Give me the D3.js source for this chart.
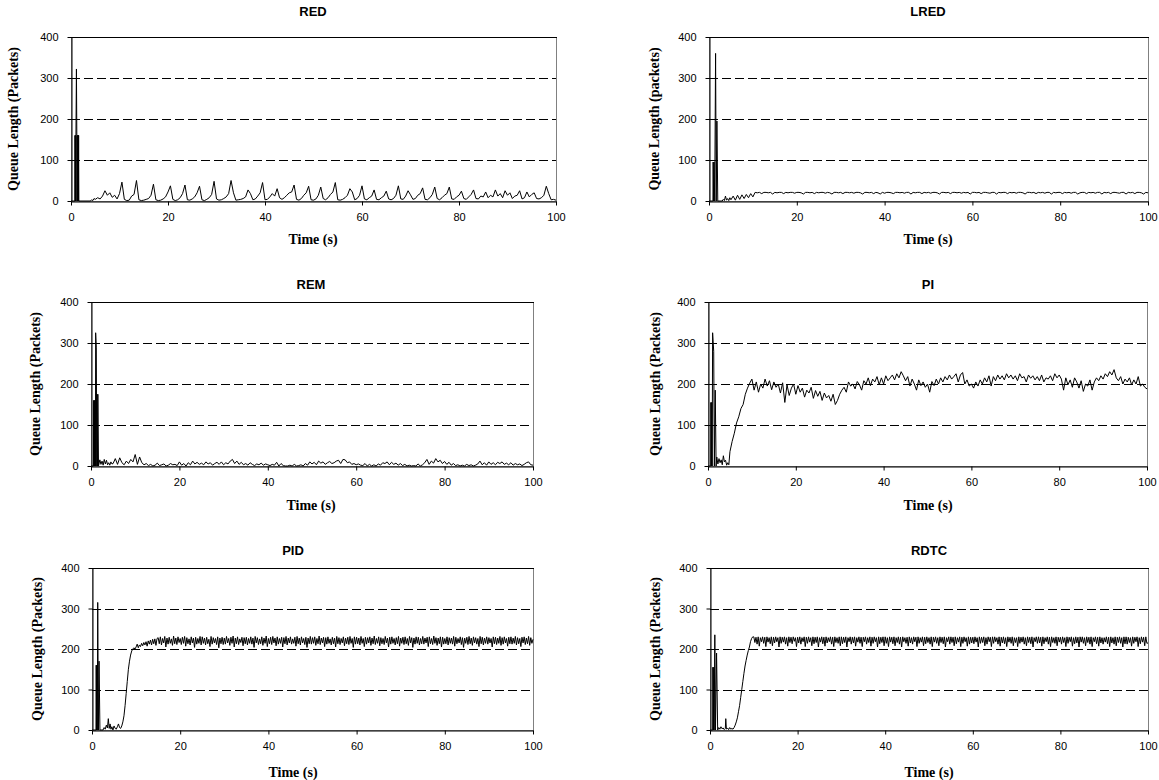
<!DOCTYPE html>
<html>
<head>
<meta charset="utf-8">
<script src="https://cdn.jsdelivr.net/npm/d3@7"></script>
<style>
  body { margin: 0; background: #fff; }
  .tick text { font-family: "Liberation Sans", Arial, sans-serif; font-size: 11px; fill: #000; }
  .ptitle { font-family: "Liberation Sans", Arial, sans-serif; font-size: 13px; font-weight: bold; }
  .atitle { font-family: "Liberation Serif", "Times New Roman", serif; font-size: 14px; font-weight: bold; }
</style>
</head>
<body>
<div id="chart"></div>
<script>
// queue length traces
// head = [time, packets] pairs for the start-up transient (0 - 4.75 s)
// body = one value every dt seconds from 5 s to 100 s
var BODY_T0 = 5, COARSE_DT = 0.5, FINE_DT = 0.25;
var xTicks = [0, 20, 40, 60, 80, 100];
var yTicks = [0, 100, 200, 300, 400];
var gridValues = [100, 200, 300];

var redHead = [[0,0],[0.8,0],[0.82,160],[0.88,0],[0.92,160],[0.98,0],[1.02,160],[1.12,322],[1.2,160],[1.24,0],[1.28,160],[1.33,0],[1.37,160],[1.42,0],[1.47,160],[1.52,0],[1.57,160],[1.62,0],[4,0],[4.25,3],[4.5,1],[4.75,6]];
var redBody = [
  4, 8, 5, 12, 25, 14, 20, 9, 14, 5,
  18, 46, 4, 1, 2, 12, 16, 50, 3, 1,
  2, 4, 6, 14, 41, 3, 1, 2, 5, 10,
  22, 37, 4, 1, 3, 8, 18, 39, 3, 2,
  5, 10, 20, 36, 3, 1, 4, 8, 16, 48,
  5, 2, 3, 6, 10, 18, 50, 20, 2, 3,
  4, 6, 10, 27, 18, 3, 5, 12, 20, 45,
  3, 4, 10, 18, 12, 30, 8, 4, 8, 14,
  20, 22, 39, 4, 2, 6, 14, 20, 36, 3,
  2, 5, 14, 34, 6, 3, 8, 16, 22, 45,
  3, 2, 4, 8, 14, 30, 22, 3, 6, 14,
  37, 5, 3, 8, 12, 27, 4, 3, 8, 12,
  24, 5, 3, 6, 14, 37, 5, 4, 12, 25,
  15, 4, 6, 14, 18, 32, 4, 3, 8, 16,
  34, 6, 3, 8, 14, 18, 34, 5, 4, 10,
  14, 24, 6, 4, 10, 16, 27, 6, 5, 12,
  10, 22, 8, 14, 10, 27, 12, 18, 8, 25,
  14, 20, 6, 12, 14, 25, 5, 8, 22, 10,
  16, 20, 6, 5, 8, 14, 36, 18, 3, 4,
  2];

var lredHead = [[0,0],[0.9,0],[0.95,95],[1.05,0],[1.15,95],[1.3,0],[1.5,360],[1.65,0],[1.8,195],[2.0,0],[3.0,0],[3.25,4],[3.5,1],[3.75,12],[4.0,2],[4.25,6],[4.5,1],[4.75,8]];
var lredBody = [
  3, 12, 2, 14, 4, 15, 6, 16, 8, 18,
  10, 21, 20, 21, 18, 21, 21, 20, 21, 17,
  21, 20, 21, 21, 18, 21, 20, 21, 21, 19,
  21, 21, 20, 17, 21, 21, 20, 21, 18, 21,
  20, 21, 21, 19, 21, 20, 17, 21, 21, 20,
  21, 18, 21, 21, 20, 21, 19, 21, 21, 20,
  17, 21, 21, 20, 21, 18, 21, 20, 17, 21,
  19, 21, 21, 20, 18, 21, 21, 20, 21, 19,
  21, 21, 17, 21, 20, 21, 21, 18, 21, 20,
  21, 19, 21, 21, 20, 17, 21, 21, 20, 21,
  18, 21, 21, 20, 21, 19, 21, 20, 21, 17,
  21, 21, 20, 21, 18, 21, 21, 20, 19, 21,
  21, 17, 21, 20, 21, 21, 18, 21, 20, 21,
  19, 21, 21, 20, 17, 21, 21, 20, 21, 18,
  21, 20, 21, 19, 21, 21, 17, 21, 20, 21,
  21, 18, 21, 20, 21, 19, 21, 21, 17, 20,
  21, 21, 18, 21, 20, 21, 19, 21, 21, 17,
  21, 20, 21, 18, 21, 21, 20, 19, 21, 21,
  17, 21, 20, 21, 18, 21, 21, 20, 17, 21,
  20];

var remHead = [[0,0],[0.55,0],[0.6,160],[0.7,0],[0.75,160],[0.85,0],[0.9,160],[1.0,0],[1.05,325],[1.2,290],[1.3,0],[1.35,175],[1.5,0],[1.55,175],[1.7,0],[2.0,15],[2.25,4],[2.5,12],[2.75,2],[3.0,16],[3.25,5],[3.5,14],[3.75,3],[4.0,8],[4.25,2],[4.5,10],[4.75,5]];
var remBody = [
  6, 18, 4, 20, 8, 3, 12, 6, 16, 10,
  28, 4, 22, 8, 3, 6, 1, 4, 0, 2,
  7, 1, 3, 5, 0, 2, 6, 3, 4, 1,
  10, 2, 6, 0, 8, 3, 12, 5, 9, 4,
  7, 3, 10, 5, 8, 2, 6, 9, 4, 10,
  3, 8, 5, 12, 16, 6, 12, 4, 9, 3,
  6, 2, 8, 4, 1, 5, 3, 7, 2, 5,
  3, 1, 4, 2, 9, 0, 6, 1, 0, 0,
  2, 0, 4, 0, 1, 3, 0, 6, 2, 10,
  5, 9, 3, 12, 7, 10, 4, 8, 11, 6,
  8, 12, 14, 6, 16, 15, 8, 10, 4, 6,
  3, 5, 2, 1, 6, 0, 4, 0, 3, 0,
  5, 2, 8, 6, 10, 3, 9, 4, 7, 2,
  6, 1, 4, 0, 2, 0, 1, 0, 5, 0,
  3, 8, 16, 4, 12, 7, 18, 10, 14, 6,
  11, 4, 9, 2, 6, 1, 3, 0, 2, 0,
  4, 1, 3, 0, 2, 5, 12, 3, 8, 2,
  10, 4, 8, 3, 9, 6, 10, 4, 7, 3,
  8, 2, 6, 3, 5, 1, 4, 8, 10, 3,
  2];

var piHead = [[0,0],[0.6,0],[0.65,155],[0.8,0],[0.85,155],[0.95,0],[1.05,325],[1.3,280],[1.45,0],[1.65,185],[1.85,0],[2.0,22],[2.25,5],[2.5,18],[2.75,8],[3.0,15],[3.25,3],[3.5,25],[3.75,10],[4.0,14],[4.25,2],[4.5,8],[4.75,3]];
var piBody = [
  35, 60, 80, 105, 120, 140, 150, 175, 190, 202,
  212, 185, 205, 180, 200, 190, 212, 195, 208, 186,
  205, 192, 200, 178, 203, 155, 198, 172, 190, 200,
  175, 196, 180, 190, 168, 185, 178, 192, 165, 184,
  170, 182, 160, 178, 166, 172, 158, 175, 150, 160,
  175, 185, 192, 180, 205, 195, 200, 188, 206, 198,
  185, 208, 200, 215, 196, 212, 205, 218, 198, 215,
  200, 220, 208, 215, 222, 210, 225, 215, 230, 220,
  208, 218, 195, 212, 200, 185, 210, 196, 205, 192,
  200, 180, 206, 196, 212, 200, 215, 205, 218, 210,
  222, 212, 218, 225, 205, 222, 228, 200, 210, 195,
  200, 190, 205, 195, 210, 200, 215, 205, 220, 195,
  218, 208, 222, 212, 220, 210, 225, 215, 222, 212,
  220, 208, 225, 215, 218, 205, 222, 214, 220, 210,
  218, 208, 222, 205, 215, 212, 220, 208, 225, 215,
  222, 212, 185, 215, 198, 210, 192, 215, 205, 190,
  208, 182, 200, 195, 210, 185, 205, 215, 208, 220,
  212, 225, 218, 230, 222, 235, 215, 208, 218, 200,
  212, 205, 215, 198, 210, 200, 218, 195, 200, 192,
  188];

var pidHead = [[0,0],[0.9,0],[0.95,160],[1.05,0],[1.1,160],[1.2,0],[1.3,315],[1.45,0],[1.6,170],[1.8,0],[2.5,0],[2.75,6],[3.0,2],[3.25,12],[3.5,5],[3.7,28],[3.9,4],[4.1,15],[4.3,2],[4.5,8],[4.75,0]];
// every 0.25 s
var pidBody = [
  10, 4, 2, 8, 15, 6, 4, 10, 20, 35, 60, 90, 120, 150, 170, 185, 195, 200, 203, 200,
  205, 212, 203, 210, 206, 214, 208, 216, 210, 218, 207, 220, 212, 222, 210, 224, 213, 225, 209, 226,
  228, 213, 230, 210, 226, 215, 231, 205, 227, 212, 229, 214, 225, 209, 232, 213, 227, 211, 230, 216,
  226, 211, 229, 214, 231, 207, 228, 213, 225, 210, 230, 215, 227, 204, 229, 212, 226, 214, 231, 210,
  230, 214, 227, 210, 229, 213, 224, 206, 231, 212, 228, 215, 226, 211, 230, 203, 227, 213, 229, 211,
  227, 212, 231, 215, 226, 209, 229, 214, 232, 205, 227, 213, 230, 211, 225, 216, 229, 208, 228, 213,
  229, 210, 226, 214, 230, 212, 227, 204, 231, 215, 228, 211, 225, 213, 230, 209, 227, 214, 232, 206,
  226, 213, 229, 211, 231, 215, 227, 208, 230, 212, 226, 214, 229, 205, 228, 213, 231, 210, 227, 215,
  230, 212, 225, 214, 229, 207, 231, 213, 227, 210, 230, 215, 226, 211, 229, 204, 227, 213, 231, 212,
  228, 214, 230, 209, 226, 213, 232, 211, 227, 215, 229, 206, 228, 212, 230, 214, 225, 210, 229, 213,
  227, 205, 231, 213, 228, 211, 226, 215, 230, 208, 227, 213, 229, 211, 231, 214, 226, 204, 230, 212,
  229, 213, 227, 210, 231, 214, 226, 206, 229, 212, 228, 215, 230, 209, 227, 213, 232, 211, 226, 214,
  230, 208, 228, 213, 226, 211, 231, 215, 227, 205, 229, 212, 230, 214, 226, 210, 228, 213, 231, 207,
  227, 214, 229, 211, 230, 213, 226, 209, 231, 215, 228, 204, 227, 212, 230, 214, 229, 210, 226, 213,
  231, 212, 227, 215, 229, 206, 230, 213, 226, 211, 232, 214, 228, 209, 227, 213, 230, 205, 229, 212,
  226, 213, 230, 210, 228, 214, 227, 212, 231, 207, 229, 213, 226, 215, 230, 211, 228, 204, 227, 214,
  229, 211, 231, 213, 227, 209, 230, 215, 228, 212, 226, 206, 231, 213, 229, 210, 227, 214, 230, 212,
  228, 215, 226, 205, 230, 213, 229, 211, 227, 214, 231, 209, 228, 212, 230, 215, 226, 207, 229, 213,
  230, 212, 227, 214, 231, 210, 228, 213, 226, 206, 229, 215, 230, 211, 227, 213, 231, 209, 228, 214,
  224];

var rdtcHead = [[0,0],[0.6,0],[0.65,155],[0.8,0],[0.85,155],[0.95,0],[1.1,235],[1.25,0],[1.5,190],[1.75,0],[2.0,6],[2.25,2],[2.5,8],[2.75,3],[3.0,5],[3.25,1],[3.5,4],[3.6,28],[3.75,2],[4.0,5],[4.25,1],[4.5,6],[4.75,2]];
// every 0.25 s
var rdtcBody = [
  4, 2, 6, 12, 20, 30, 45, 60, 80, 100, 120, 140, 158, 172, 185, 196, 205, 218, 226, 230,
  230, 216, 229, 212, 230, 207, 228, 218, 230, 214, 229, 206, 230, 217, 228, 213, 230, 208, 229, 215,
  230, 218, 228, 205, 230, 214, 229, 217, 230, 212, 228, 207, 230, 216, 229, 213, 230, 219, 228, 206,
  229, 215, 230, 212, 228, 218, 230, 206, 229, 214, 230, 217, 228, 208, 230, 213, 229, 216, 230, 205,
  228, 217, 230, 213, 229, 207, 230, 215, 228, 218, 230, 212, 229, 206, 230, 216, 228, 214, 230, 208,
  230, 213, 229, 216, 230, 205, 228, 218, 230, 212, 229, 215, 230, 207, 228, 217, 230, 214, 229, 206,
  229, 218, 230, 212, 228, 216, 230, 207, 229, 214, 230, 218, 228, 205, 230, 213, 229, 216, 230, 208,
  230, 214, 228, 206, 230, 217, 229, 213, 230, 208, 228, 216, 230, 212, 229, 205, 230, 218, 228, 214,
  229, 207, 230, 215, 228, 212, 230, 218, 229, 206, 230, 214, 228, 217, 230, 208, 229, 213, 230, 216,
  228, 212, 230, 206, 229, 217, 230, 214, 228, 208, 230, 216, 229, 213, 230, 205, 228, 218, 230, 212,
  230, 216, 229, 208, 230, 213, 228, 217, 230, 206, 229, 214, 230, 218, 228, 207, 230, 212, 229, 215,
  229, 213, 230, 217, 228, 205, 230, 214, 229, 216, 230, 208, 228, 212, 230, 218, 229, 206, 230, 214,
  230, 218, 228, 212, 230, 207, 229, 215, 230, 213, 228, 206, 230, 217, 229, 214, 230, 208, 228, 216,
  228, 206, 230, 214, 229, 217, 230, 212, 228, 208, 230, 216, 229, 213, 230, 205, 228, 218, 230, 214,
  230, 215, 229, 207, 230, 213, 228, 218, 230, 212, 229, 206, 230, 216, 228, 214, 230, 208, 229, 217,
  229, 212, 230, 216, 228, 206, 230, 214, 229, 218, 230, 207, 228, 213, 230, 215, 229, 205, 230, 217,
  230, 214, 228, 208, 230, 216, 229, 212, 230, 206, 228, 218, 230, 213, 229, 207, 230, 215, 228, 212,
  228, 217, 230, 213, 229, 206, 230, 215, 228, 212, 230, 208, 229, 216, 230, 214, 228, 205, 230, 213,
  230, 212, 229, 216, 228, 207, 230, 214, 229, 218, 230, 206, 228, 213, 230, 217, 229, 208, 230, 214,
  215];

// panel placement (plot box in page pixels)
var panels = [
  { name: "RED",  head: redHead,  body: redBody,  dt: COARSE_DT, ylab: "Queue Length (Packets)", x0: 71,  x1: 556,  y0: 37,  y1: 201, tx: 313, ty: 16,  lx: 313, ly: 244, yx: 18 },
  { name: "LRED", head: lredHead, body: lredBody, dt: COARSE_DT, ylab: "Queue Length (packets)", x0: 709, x1: 1148, y0: 37,  y1: 201, tx: 928, ty: 16,  lx: 928, ly: 244, yx: 659 },
  { name: "REM",  head: remHead,  body: remBody,  dt: COARSE_DT, ylab: "Queue Length (Packets)", x0: 91,  x1: 533,  y0: 302, y1: 466, tx: 311, ty: 289, lx: 311, ly: 510, yx: 40 },
  { name: "PI",   head: piHead,   body: piBody,   dt: COARSE_DT, ylab: "Queue Length (Packets)", x0: 708, x1: 1147, y0: 302, y1: 466, tx: 928, ty: 289, lx: 928, ly: 510, yx: 660 },
  { name: "PID",  head: pidHead,  body: pidBody,  dt: FINE_DT,   ylab: "Queue Length (Packets)", x0: 92,  x1: 533,  y0: 568, y1: 730, tx: 293, ty: 555, lx: 293, ly: 777, yx: 42 },
  { name: "RDTC", head: rdtcHead, body: rdtcBody, dt: FINE_DT,   ylab: "Queue Length (Packets)", x0: 710, x1: 1148, y0: 568, y1: 730, tx: 929, ty: 555, lx: 929, ly: 777, yx: 660 }
];

var svg = d3.select("#chart").append("svg")
  .attr("width", 1159)
  .attr("height", 780)
  .style("display", "block");

function toPoints(head, body, dt) {
  var pts = head.map(function(d) { return { t: d[0], q: d[1] }; });
  body.forEach(function(q, i) { pts.push({ t: BODY_T0 + i * dt, q: q }); });
  return pts;
}

panels.forEach(function(p, idx) {
  var x = d3.scaleLinear().domain([0, 100]).range([p.x0, p.x1]);
  var y = d3.scaleLinear().domain([0, 400]).range([p.y1, p.y0]);
  var g = svg.append("g");

  // frame
  g.append("rect")
    .attr("x", p.x0 + 0.5).attr("y", p.y0 + 0.5)
    .attr("width", p.x1 - p.x0).attr("height", p.y1 - p.y0)
    .attr("fill", "none").attr("stroke", "#808080");

  // dashed grid
  g.selectAll(".grid")
    .data(gridValues)
    .enter().append("line")
    .attr("x1", p.x0).attr("x2", p.x1)
    .attr("y1", function(d) { return Math.round(y(d)) + 0.5; })
    .attr("y2", function(d) { return Math.round(y(d)) + 0.5; })
    .attr("stroke", "#000").attr("stroke-dasharray", "9,4");

  g.append("line")
    .attr("x1", p.x0).attr("x2", p.x1 + 1)
    .attr("y1", Math.round(y(400)) + 0.5).attr("y2", Math.round(y(400)) + 0.5)
    .attr("stroke", "#000");

  // trace
  var clipId = "clip" + idx;
  svg.append("clipPath").attr("id", clipId)
    .append("rect")
    .attr("x", p.x0).attr("y", p.y0)
    .attr("width", p.x1 - p.x0 + 1).attr("height", p.y1 - p.y0 + 1);

  var line = d3.line()
    .x(function(d) { return x(d.t); })
    .y(function(d) { return y(d.q); });

  g.append("path")
    .datum(toPoints(p.head, p.body, p.dt))
    .attr("clip-path", "url(#" + clipId + ")")
    .attr("fill", "none")
    .attr("stroke", "#000")
    .attr("stroke-width", 1)
    .attr("d", line);

  // axes
  var xAxis = d3.axisBottom(x).tickValues(xTicks).tickSize(4).tickSizeOuter(0).tickPadding(8);
  var yAxis = d3.axisLeft(y).tickValues(yTicks).tickSize(4).tickSizeOuter(0).tickPadding(9);

  g.append("g")
    .attr("transform", "translate(0," + (Math.round(p.y1) + 0.5) + ")")
    .call(xAxis)
    .call(function(a) { a.selectAll("path,line").attr("stroke", "#000"); });

  g.append("g")
    .attr("transform", "translate(" + (p.x0 + 0.5) + ",0)")
    .call(yAxis)
    .call(function(a) { a.selectAll("path,line").attr("stroke", "#000"); });

  // titles
  g.append("text").attr("class", "ptitle")
    .attr("x", p.tx).attr("y", p.ty)
    .attr("text-anchor", "middle")
    .text(p.name);

  g.append("text").attr("class", "atitle")
    .attr("x", p.lx).attr("y", p.ly)
    .attr("text-anchor", "middle")
    .text("Time (s)");

  g.append("text").attr("class", "atitle")
    .attr("transform", "translate(" + p.yx + "," + ((p.y0 + p.y1) / 2) + ")rotate(-90)")
    .attr("text-anchor", "middle")
    .text(p.ylab);
});
</script>
</body>
</html>
